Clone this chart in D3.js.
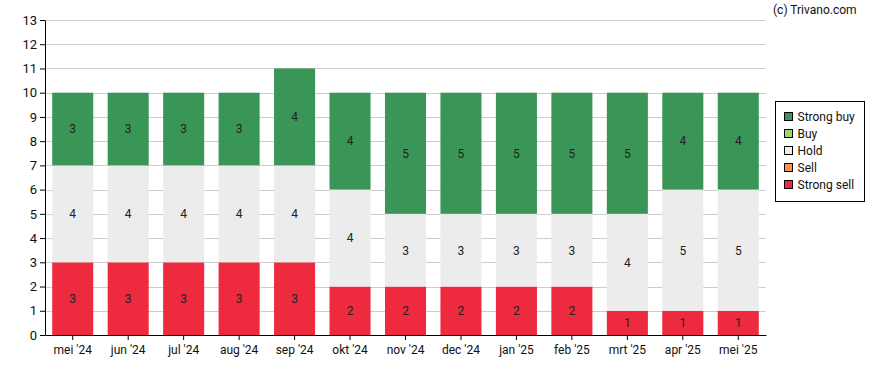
<!DOCTYPE html>
<html>
<head>
<meta charset="utf-8">
<script src="https://cdn.jsdelivr.net/npm/d3@7"></script>
<style>
  body { margin: 0; background: #fff; }
  svg { font-family: Roboto, "Noto Sans", sans-serif; }
</style>
</head>
<body>
<svg id="chart" width="888" height="370"></svg>
<script>
// data
const months = ["mei '24","jun '24","jul '24","aug '24","sep '24","okt '24","nov '24","dec '24","jan '25","feb '25","mrt '25","apr '25","mei '25"];
const strongSell = [3,3,3,3,3,2,2,2,2,2,1,1,1];
const sell       = [0,0,0,0,0,0,0,0,0,0,0,0,0];
const hold       = [4,4,4,4,4,4,3,3,3,3,4,5,5];
const buy        = [0,0,0,0,0,0,0,0,0,0,0,0,0];
const strongBuy  = [3,3,3,3,4,4,5,5,5,5,5,4,4];

const seriesNames = ["Strong sell","Sell","Hold","Buy","Strong buy"];
const colours = {
    "Strong buy": "#3a9657",
    "Buy": "#98d86f",
    "Hold": "#ececec",
    "Sell": "#fd8f4f",
    "Strong sell": "#ee2a3e"
};

const rows = months.map((m, i) => ({
    month: m,
    "Strong sell": strongSell[i],
    "Sell": sell[i],
    "Hold": hold[i],
    "Buy": buy[i],
    "Strong buy": strongBuy[i]
}));

const margin = { top: 20, left: 45, right: 122, bottom: 35 };
const svg = d3.select("#chart");
const width = 888, height = 370;

const x = d3.scaleBand()
    .domain(months)
    .range([margin.left, width - margin.right])
    .paddingInner(0.26)
    .paddingOuter(0.13);

const y = d3.scaleLinear()
    .domain([0, 13])
    .range([height - margin.bottom, margin.top]);

// grid
svg.append("g")
    .selectAll("line")
    .data(d3.range(1, 14))
    .join("line")
    .attr("x1", margin.left)
    .attr("x2", width - margin.right)
    .attr("y1", d => Math.round(y(d)) + 0.5)
    .attr("y2", d => Math.round(y(d)) + 0.5)
    .attr("stroke", "#cccccc")
    .attr("stroke-width", 1);

const stack = d3.stack().keys(seriesNames);
const stacked = stack(rows);

const layers = svg.append("g")
    .selectAll("g")
    .data(stacked)
    .join("g")
    .attr("fill", d => colours[d.key]);

layers.selectAll("rect")
    .data(d => d)
    .join("rect")
    .attr("x", d => x(d.data.month))
    .attr("width", x.bandwidth())
    .attr("y", d => y(d[1]))
    .attr("height", d => y(d[0]) - y(d[1]));

// value labels
layers.selectAll("text")
    .data(d => d.filter(v => v[1] - v[0] > 0))
    .join("text")
    .attr("x", d => x(d.data.month) + x.bandwidth() / 2)
    .attr("y", d => (y(d[0]) + y(d[1])) / 2)
    .attr("dy", "0.36em")
    .attr("text-anchor", "middle")
    .attr("fill", "#222")
    .attr("font-size", 12)
    .text(d => d[1] - d[0]);

// axes
const yAxis = d3.axisLeft(y).ticks(13).tickSize(5).tickSizeOuter(0);
svg.append("g")
    .attr("transform", `translate(${margin.left},0)`)
    .call(yAxis)
    .call(g => g.selectAll("text").attr("font-size", 13).attr("fill", "#111").attr("font-family", "Roboto, sans-serif"))
    .call(g => g.select(".domain").attr("stroke", "#000"));

const xAxis = d3.axisBottom(x).tickSize(5).tickSizeOuter(0);
svg.append("g")
    .attr("transform", `translate(0,${y(0)})`)
    .call(xAxis)
    .call(g => g.selectAll("text").attr("font-size", 12).attr("fill", "#111").attr("font-family", "Roboto, sans-serif").attr("dy", "0.95em"))
    .call(g => g.select(".domain").attr("stroke", "#000"));

// credit
svg.append("text")
    .attr("x", 773)
    .attr("y", 14)
    .attr("font-size", 12)
    .attr("fill", "#111")
    .text("(c) Trivano.com");

// legend
const legend = svg.append("g").attr("transform", "translate(775.5,101.5)");
legend.append("rect")
    .attr("width", 89)
    .attr("height", 100)
    .attr("fill", "#fff")
    .attr("stroke", "#000");

const legendOrder = seriesNames.slice().reverse();
const item = legend.selectAll("g.item")
    .data(legendOrder)
    .join("g")
    .attr("class", "item")
    .attr("transform", (d, i) => `translate(9,${11 + i * 17})`);

item.append("rect")
    .attr("width", 8)
    .attr("height", 8)
    .attr("fill", d => colours[d])
    .attr("stroke", "#000");

item.append("text")
    .attr("x", 13)
    .attr("y", 4)
    .attr("dy", "0.36em")
    .attr("font-size", 12)
    .attr("fill", "#111")
    .text(d => d);
</script>
</body>
</html>
